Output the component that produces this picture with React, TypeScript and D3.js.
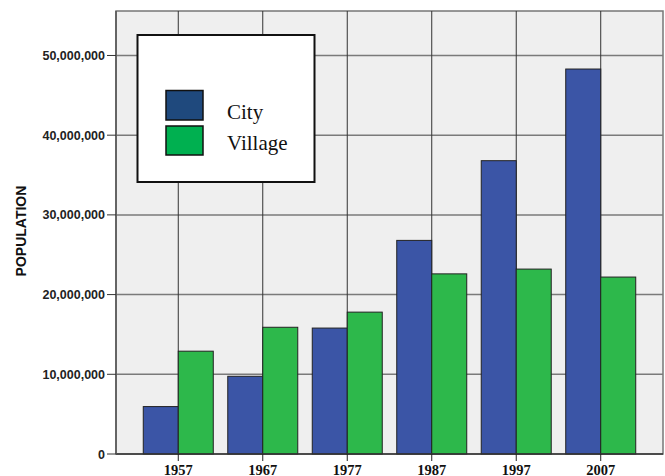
import React from "react";
import * as d3 from "d3";

const years = ["1957", "1967", "1977", "1987", "1997", "2007"];
const cityValues = [5.95e6, 9.75e6, 15.8e6, 26.8e6, 36.8e6, 48.3e6];
const villageValues = [12.9e6, 15.9e6, 17.8e6, 22.6e6, 23.2e6, 22.2e6];
const yTicks = [0, 10e6, 20e6, 30e6, 40e6, 50e6];
const seriesNames = ["City", "Village"];

const W = 665, H = 476;
const left = 116, right = 663, top = 11, bottom = 454;

export default function App() {
  const x = d3.scalePoint<string>().domain(years).range([left, right]).padding(0.737);
  const y = d3.scaleLinear().domain([0, 55.58e6]).range([bottom, top]);
  const bw = 35;
  const fmt = d3.format(",");
  return (
    <svg width={W} height={H} style={{ position: "absolute", left: 0, top: 0 }}>
      <rect x={left} y={top} width={right - left} height={bottom - top} fill="#efefef" stroke="#777" strokeWidth={1.5} />
      {yTicks.filter(t => t > 0).map(t => (
        <line key={t} x1={left} x2={right} y1={y(t)} y2={y(t)} stroke="#7a7a7a" strokeWidth={1.5} />
      ))}
      {years.map(yr => (
        <line key={yr} x1={x(yr)} x2={x(yr)} y1={top} y2={bottom} stroke="#333" strokeWidth={1} />
      ))}
      {years.map((yr, i) => (
        <g key={yr}>
          <rect x={(x(yr) as number) - bw} y={y(cityValues[i])} width={bw} height={bottom - y(cityValues[i])}
            fill="#3b55a6" stroke="#222" strokeWidth={1} />
          <rect x={x(yr) as number} y={y(villageValues[i])} width={bw} height={bottom - y(villageValues[i])}
            fill="#2db84b" stroke="#222" strokeWidth={1} />
        </g>
      ))}
      <line x1={left} x2={right} y1={bottom} y2={bottom} stroke="#333" strokeWidth={1.5} />
      <line x1={left} x2={left} y1={top} y2={bottom} stroke="#555" strokeWidth={1.5} />
      {yTicks.map(t => (
        <g key={t}>
          <line x1={107} x2={left} y1={y(t)} y2={y(t)} stroke="#333" strokeWidth={1} />
          <text x={105} y={y(t)} dy="0.36em" textAnchor="end" fontFamily="Liberation Sans, Arial, sans-serif"
            fontWeight="bold" fontSize={12.5} fill="#222">{fmt(t)}</text>
        </g>
      ))}
      {years.map(yr => (
        <g key={yr}>
          <line x1={x(yr)} x2={x(yr)} y1={bottom} y2={461} stroke="#222" strokeWidth={1} />
          <text x={x(yr)} y={474.5} textAnchor="middle" fontFamily="Liberation Serif, Times New Roman, serif"
            fontWeight="bold" fontSize={14.5} fill="#111">{yr}</text>
        </g>
      ))}
      <text transform={`translate(25.5,231) rotate(-90)`} textAnchor="middle" fontFamily="Liberation Sans, Arial, sans-serif"
        fontWeight="bold" fontSize={14} fill="#111">POPULATION</text>
      <rect x={137.5} y={35} width={177} height={147} fill="#fff" stroke="#111" strokeWidth={2} />
      <rect x={166} y={90.5} width={37} height={29.5} fill="#1f497d" stroke="#111" strokeWidth={1.5} />
      <rect x={166} y={126} width={37} height={29} fill="#00b050" stroke="#111" strokeWidth={1.5} />
      {seriesNames.map((s, i) => (
        <text key={s} x={227} y={119 + i * 31} fontFamily="Liberation Serif, Times New Roman, serif" fontSize={21} fill="#111">{s}</text>
      ))}
    </svg>
  );
}
